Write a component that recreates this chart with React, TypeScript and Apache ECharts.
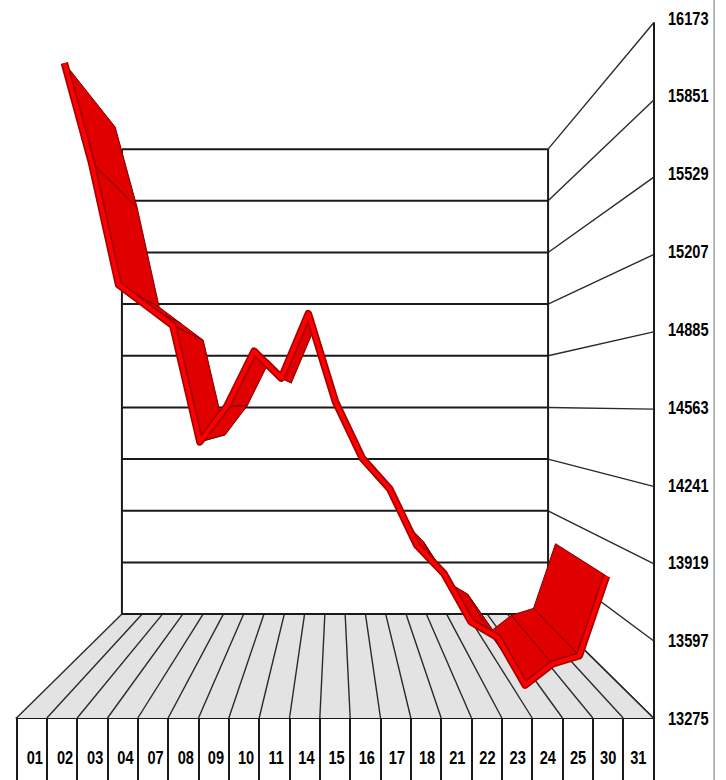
import React, { useEffect, useRef } from "react";
import * as echarts from "echarts";

const categories = ["01","02","03","04","07","08","09","10","11","14","15","16","17","18","21","22","23","24","25","30","31"];
const closes = [16173,15710,15140,15045,14950,14408,14575,14830,14705,15005,14595,14330,14190,13927,13795,13570,13495,13275,13373,13412,13783];
const yTicks = [13275,13597,13919,14241,14563,14885,15207,15529,15851,16173];

const FONT = '"Liberation Sans", Arial, sans-serif';
const BACK = 0.669;
const RIBBON_FRONT = 0.895;
const RIBBON_BACK = 0.727;
const HORIZON = 14584;
const INK = "#1a1a1a";
const SQUEEZE = 0.81;

type P = number[];
const project = (p: P, vp: P, s: number): P => [vp[0] + s * (p[0] - vp[0]), vp[1] + s * (p[1] - vp[1])];
const vanish = (api: any): P => api.coord([(categories.length - 1) / 2, HORIZON]);
// the labels and marks run slightly tighter than the boxes of the floor
const slotShift = (i: number) => 3.2 * (1 - i / (categories.length - 1));
const place = (api: any, i: number): P => {
  const c = api.coord([api.value(0, i), api.value(1, i)]);
  return [c[0] + slotShift(i) * 0.3, c[1]];
};

const renderWalls = (_: any, api: any) => {
  const vp = vanish(api);
  const band = api.size([1, 0])[0];
  const n = categories.length;
  const lo = yTicks[0];
  const hi = yTicks[yTicks.length - 1];
  const frontLeft = [api.coord([0, lo])[0] - band / 2, api.coord([0, lo])[1]];
  const frontRight = [api.coord([n - 1, lo])[0] + band / 2, api.coord([n - 1, lo])[1]];
  const backLeft = project(frontLeft, vp, BACK);
  const backRight = project(frontRight, vp, BACK);
  const children: any[] = [
    {
      type: "polygon",
      shape: { points: [frontLeft, frontRight, backRight, backLeft] },
      style: { fill: "#e3e3e3", stroke: "none" },
    },
  ];
  for (let i = 0; i <= n; i++) {
    const f = [frontLeft[0] + i * band, frontLeft[1]];
    const b = project(f, vp, BACK);
    children.push({
      type: "line",
      shape: { x1: f[0], y1: f[1], x2: b[0], y2: b[1] },
      style: { stroke: "#2a2a2a", lineWidth: 1.4 },
    });
  }
  yTicks.forEach((t) => {
    const y = api.coord([0, t])[1];
    const fr = [frontRight[0], y];
    const br = project(fr, vp, BACK);
    const bl = project([frontLeft[0], y], vp, BACK);
    children.push({
      type: "line",
      shape: { x1: fr[0], y1: fr[1], x2: br[0], y2: br[1] },
      style: { stroke: "#2a2a2a", lineWidth: 1.4 },
    });
    children.push({
      type: "line",
      shape: { x1: bl[0], y1: bl[1], x2: br[0], y2: br[1] },
      style: { stroke: INK, lineWidth: 2 },
    });
  });
  const topLeft = project([frontLeft[0], api.coord([0, hi])[1]], vp, BACK);
  const topRight = project([frontRight[0], api.coord([0, hi])[1]], vp, BACK);
  children.push(
    { type: "line", shape: { x1: topLeft[0], y1: topLeft[1], x2: backLeft[0], y2: backLeft[1] }, style: { stroke: INK, lineWidth: 2 } },
    { type: "line", shape: { x1: topRight[0], y1: topRight[1], x2: backRight[0], y2: backRight[1] }, style: { stroke: INK, lineWidth: 2 } }
  );
  return { type: "group", children };
};

const renderQuad = (params: any, api: any) => {
  const i = params.dataIndex;
  if (i >= closes.length - 1) return null;
  const vp = vanish(api);
  const a = place(api, i);
  const b = place(api, i + 1);
  return {
    type: "polygon",
    shape: {
      points: [
        project(a, vp, RIBBON_FRONT),
        project(b, vp, RIBBON_FRONT),
        project(b, vp, RIBBON_BACK),
        project(a, vp, RIBBON_BACK),
      ],
    },
    style: { fill: "#e00000", stroke: "#7d0000", lineWidth: 1, lineJoin: "round" },
  };
};

const renderEdge = (params: any, api: any) => {
  if (params.dataIndex !== 0) return null;
  const vp = vanish(api);
  const points = closes.map((_, i) => project(place(api, i), vp, RIBBON_FRONT));
  return {
    type: "group",
    children: [
      { type: "polyline", shape: { points }, style: { fill: "none", stroke: "#a30000", lineWidth: 7.5, lineJoin: "round" } },
      { type: "polyline", shape: { points }, style: { fill: "none", stroke: "#ff0000", lineWidth: 4.2, lineJoin: "round" } },
    ],
  };
};

const labelStyle = (text: string, align: string) => ({
  text,
  fontFamily: FONT,
  fontWeight: "bold",
  fontSize: 18,
  fill: "#000",
  align,
  verticalAlign: "middle",
});

const renderLabels = (params: any, api: any) => {
  if (params.dataIndex !== 0) return null;
  const lo = yTicks[0];
  const hi = yTicks[yTicks.length - 1];
  const base = api.coord([0, lo])[1];
  const xRight = api.coord([categories.length - 1, lo])[0] + api.size([1, 0])[0] / 2;
  const children: any[] = [];
  categories.forEach((c, i) => {
    children.push({
      type: "text",
      x: api.coord([i, lo])[0] + slotShift(i),
      y: base + 39.5,
      scaleX: SQUEEZE,
      style: labelStyle(c, "center"),
    });
  });
  yTicks.forEach((t) => {
    children.push({
      type: "text",
      x: xRight + 14.5,
      y: api.coord([0, t])[1] - 5.5 * ((t - lo) / (hi - lo)) + 0.5,
      scaleX: SQUEEZE,
      style: labelStyle(String(t), "left"),
    });
  });
  return { type: "group", children };
};

export default function App() {
  const ref = useRef<HTMLDivElement>(null);
  useEffect(() => {
    document.body.style.margin = "0";
    const chart = echarts.init(ref.current!, undefined, { renderer: "svg" });
    const points = closes.map((v, i) => [i, v]);
    chart.setOption({
      animation: false,
      backgroundColor: "#ffffff",
      grid: { left: 16.5, right: 726 - 653.5, top: 23, bottom: 62, containLabel: false },
      xAxis: {
        type: "category",
        data: categories,
        boundaryGap: true,
        axisLine: { show: true, lineStyle: { color: INK, width: 2 } },
        axisTick: { show: true, alignWithLabel: false, length: 62, lineStyle: { color: INK, width: 2 } },
        axisLabel: { show: false },
        splitLine: { show: false },
      },
      yAxis: {
        type: "value",
        position: "right",
        min: yTicks[0],
        max: yTicks[yTicks.length - 1],
        axisLine: { show: true, onZero: false, lineStyle: { color: INK, width: 2 } },
        axisTick: { show: false },
        axisLabel: { show: false },
        splitLine: { show: false },
      },
      graphic: [
        { type: "rect", shape: { x: 713.5, y: 0, width: 1.2, height: 780 }, style: { fill: "#8a8a8a" }, silent: true },
      ],
      series: [
        { type: "custom", z: 1, clip: false, silent: true, data: [[0, yTicks[0]]], encode: { x: 0, y: 1 }, renderItem: renderWalls },
        { type: "custom", z: 2, clip: false, silent: true, data: points, encode: { x: 0, y: 1 }, renderItem: renderQuad },
        { type: "custom", z: 3, clip: false, silent: true, data: points, encode: { x: 0, y: 1 }, renderItem: renderEdge },
        { type: "custom", z: 4, clip: false, silent: true, data: [[0, yTicks[0]]], encode: { x: 0, y: 1 }, renderItem: renderLabels },
      ],
    });
    return () => chart.dispose();
  }, []);
  return <div ref={ref} style={{ width: 726, height: 780 }} />;
}
